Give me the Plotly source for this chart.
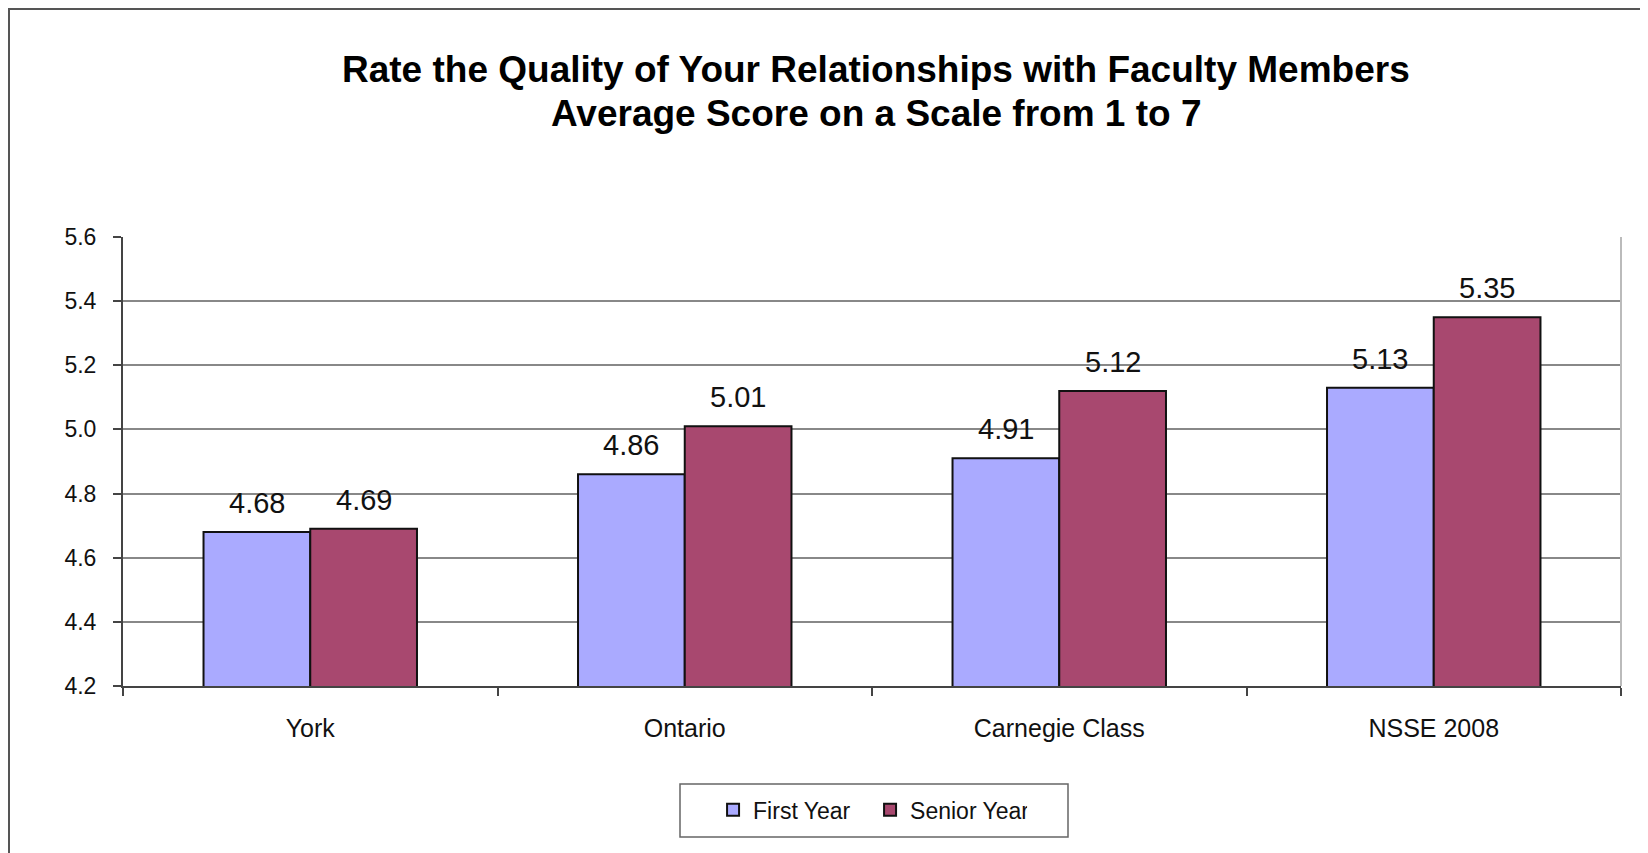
import plotly.graph_objects as go

categories = ["York", "Ontario", "Carnegie Class", "NSSE 2008"]
first_year = [4.68, 4.86, 4.91, 5.13]
senior_year = [4.69, 5.01, 5.12, 5.35]
series_names = ["First Year", "Senior Year"]
y_ticks = [4.2, 4.4, 4.6, 4.8, 5.0, 5.2, 5.4, 5.6]
title_lines = ["Rate the Quality of Your Relationships with Faculty Members",
               "Average Score on a Scale from 1 to 7"]

FONT = "Liberation Sans, Arial, sans-serif"
C_FIRST = "#AAAAFF"
C_SENIOR = "#A8486F"
BARGAP = 0.43

fig = go.Figure()
fig.add_trace(go.Bar(x=categories, y=first_year, name=series_names[0],
                     marker=dict(color=C_FIRST, line=dict(color="#111111", width=2))))
fig.add_trace(go.Bar(x=categories, y=senior_year, name=series_names[1],
                     marker=dict(color=C_SENIOR, line=dict(color="#111111", width=2))))

# value labels above bars
half = (1 - BARGAP) / 4
annotations = []
for i, cat in enumerate(categories):
    for val, off in ((first_year[i], -half), (senior_year[i], half)):
        annotations.append(dict(x=i + off, y=val, xref="x", yref="y",
                                text=f"{val:.2f}", showarrow=False,
                                yanchor="middle", yshift=29,
                                font=dict(family=FONT, size=29, color="#111111")))

# two-line title
for txt, ypos in zip(title_lines, (1.374, 1.275)):
    annotations.append(dict(x=0.503, y=ypos, xref="paper", yref="paper",
                            text=f"<b>{txt}</b>", showarrow=False,
                            xanchor="center", yanchor="middle",
                            font=dict(family=FONT, size=37, color="#000000")))

fig.update_layout(
    width=1640, height=845,
    margin=dict(l=115, r=27, t=229, b=167),
    paper_bgcolor="white", plot_bgcolor="white",
    barmode="group", bargap=BARGAP, bargroupgap=0,
    font=dict(family=FONT, color="#111111"),
    showlegend=True,
    legend=dict(orientation="h", x=0.3939, xanchor="left", y=-0.276, yanchor="middle",
                font=dict(family=FONT, size=23, color="#111111"),
                bgcolor="rgba(0,0,0,0)", borderwidth=0, traceorder="normal",
                entrywidth=112, itemclick=False),
    annotations=annotations,
    shapes=[
        # outer frame
        dict(type="rect", xref="paper", yref="paper", xsizemode="pixel", ysizemode="pixel",
             xanchor=0, yanchor=1, x0=-114, x1=1600, y0=-700, y1=228,
             fillcolor="rgba(0,0,0,0)", line=dict(color="#555555", width=2), layer="below"),
        # legend frame
        dict(type="rect", xref="paper", yref="paper", xsizemode="pixel", ysizemode="pixel",
             xanchor=0.5, yanchor=0, x0=-192, x1=196, y0=-151, y1=-98,
             fillcolor="rgba(0,0,0,0)", line=dict(color="#666666", width=1.5)),
        # right plot border
        dict(type="line", xref="paper", yref="paper", x0=1, x1=1, y0=0, y1=1,
             line=dict(color="#bbbbbb", width=2)),
    ],
)

fig.update_xaxes(showline=True, linecolor="#444444", linewidth=2,
                 ticks="outside", tickson="boundaries", ticklen=8, tickcolor="#444444",
                 tickwidth=1.5, ticklabelstandoff=19,
                 tickfont=dict(family=FONT, size=25, color="#111111"),
                 showgrid=False)
fig.update_yaxes(range=[4.2, 5.6], tickvals=y_ticks, tickformat=".1f",
                 showline=True, linecolor="#444444", linewidth=2,
                 ticks="outside", ticklen=8, tickcolor="#444444", tickwidth=1.5,
                 ticklabelstandoff=12,
                 tickfont=dict(family=FONT, size=23, color="#111111"),
                 showgrid=True, gridcolor="#888888", gridwidth=1.5, zeroline=False)

fig.write_html("out.html")
